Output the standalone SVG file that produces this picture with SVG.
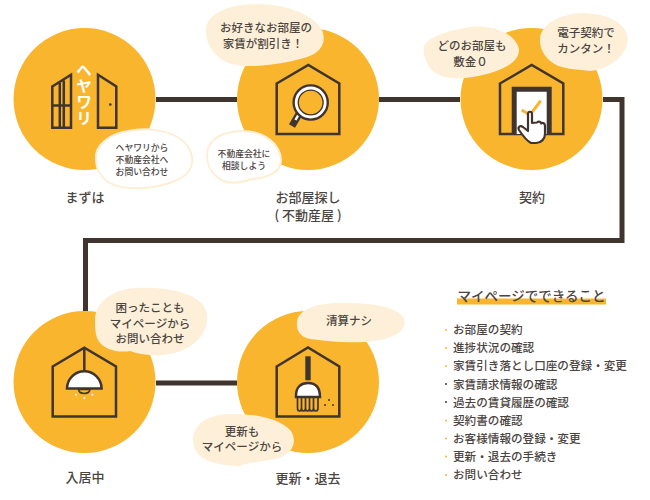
<svg xmlns="http://www.w3.org/2000/svg" width="650" height="500" viewBox="0 0 650 500">
<style>
text{font-family:"Noto Sans CJK JP","Noto Sans",sans-serif;fill:#4b4542;text-anchor:middle;font-weight:500}
.disc{fill:#f9b52d}
.ink{fill:none;stroke:#40342f;stroke-width:2.5;stroke-linejoin:miter}
.solid{fill:#fff;stroke:#40342f;stroke-width:2.5}
.link{fill:none;stroke:#40342f;stroke-width:5}
.soft{fill:#fef0d8}
.ring{fill:#fff;stroke:#feeed4;stroke-width:2}
.s9{font-size:8.8px}.s11{font-size:11.5px}.s13{font-size:13px}
.item{font-size:11.6px;text-anchor:start}
</style>
<rect width="650" height="500" fill="#fff"/>

<g id="connectors">
<path class="link" d="M156 99.500H237M379 99.500H460M603 99.500H622V240.500H85.500V311"/>
<path class="link" d="M156 383H237"/>
</g>

<g id="node-inquiry">
<circle class="disc" cx="84.500" cy="99" r="71"/>
<path class="ink" d="M52.300 86.500L71 74.800V127.700H52.300ZM59.800 83V127.700M63.800 80.500V127.700M52.300 105.500H71"/>
<path class="ink" d="M98 74.800L116.300 86.500V127.700H98Z"/>
<circle cx="110.300" cy="104.500" r="1.300" fill="#40342f"/>
<text x="84" y="62" style="writing-mode:vertical-rl;font-size:16px;font-weight:700;fill:#fff;text-anchor:start">ヘヤワリ</text>
<path class="ring" d="M96 160C94 145 110 134 128 131C148 127 175 130 187 145C197 160 193 174 175 181C155 189 125 192 108 182C100 176 96 170 96 160Z"/>
<text class="s9" x="142" y="151">ヘヤワリから</text>
<text class="s9" x="142" y="163">不動産会社へ</text>
<text class="s9" x="142" y="174.500">お問い合わせ</text>
<text class="s13" x="85" y="202">まずは</text>
</g>

<g id="node-search">
<circle class="disc" cx="308" cy="99" r="71"/>
<path class="ink" d="M276.700 83.500L308.300 65L339.300 83.500V134H276.700Z"/>
<path d="M299 114L292 126" stroke="#40342f" stroke-width="7" fill="none"/>
<path d="M300 112L295.500 120" stroke="#fff" stroke-width="2.500" fill="none"/>
<circle cx="310.700" cy="102.500" r="15" fill="#f9b52d" stroke="#40342f" stroke-width="6.500"/>
<circle cx="310.700" cy="102.500" r="14.500" fill="none" stroke="#fff" stroke-width="2.800"/>
<path class="soft" d="M206 30C206 14 228 5 252 4C280 3 312 12 322 30C328 46 318 56 296 60C272 66 240 69 226 62C212 54 206 44 206 30Z"/>
<text class="s11" x="266" y="32">お好きなお部屋の</text>
<text class="s11" x="263" y="48">家賃が割引き！</text>
<path class="ring" d="M207 155C207 140 222 131 243 131C263 131 280 143 281 160C281 172 268 178 252 179C240 183 226 186 216 176C209 170 207 164 207 155Z"/>
<text class="s9" x="244" y="156.500">不動産会社に</text>
<text class="s9" x="244" y="168.500">相談しよう</text>
<text class="s13" x="308" y="202">お部屋探し</text>
<text class="s13" x="308" y="220">( 不動産屋 )</text>
</g>

<g id="node-contract">
<circle class="disc" cx="531.500" cy="99" r="71"/>
<path class="ink" d="M500 83.500L531.700 65L563.300 83.500V134H500Z"/>
<path d="M514.200 134V89.200H549.200V134" fill="#fff" stroke="#40342f" stroke-width="5"/>
<path d="M521.700 110L530 115L540.700 100.700" fill="none" stroke="#f9b52d" stroke-width="3"/>
<path d="M528 114C528 111 532 111 532 114V123L537 122.500C539 120.500 541 122 541 123.500C543 122 545 123.500 545 126V134C545 139 541 143 536 143H531C527 141 523 136 519 130C517.500 127 520 125 523 127L528 131Z" fill="#fff" stroke="#40342f" stroke-width="2.200" stroke-linejoin="round"/>
<path class="soft" d="M424 47C426 38 445 31 470 27C495 24 517 35 519 50C519 64 498 72 478 76C455 81 438 78 430 68C425 60 423 54 424 47Z"/>
<text class="s11" x="472" y="50">どのお部屋も</text>
<text class="s11" x="470.500" y="66">敷金０</text>
<path class="soft" d="M540 40C540 24 560 14 582 13C605 13 626 22 628 38C628 55 610 69 590 71C575 69 560 70 549 60C543 54 540 48 540 40Z"/>
<text class="s11" x="586" y="37">電子契約で</text>
<text class="s11" x="586" y="52.500">カンタン！</text>
<text class="s13" x="532" y="202">契約</text>
</g>

<g id="node-living">
<circle class="disc" cx="84.500" cy="382" r="71"/>
<path class="ink" d="M52.700 366.500L84.300 347.700L116 366.500V416.500H52.700Z"/>
<path class="ink" d="M84.300 347.700V370"/>
<path class="solid" d="M67 388.500A17.300 17.300 0 0 1 101.600 388.500Z"/>
<path d="M78.500 389.500A5.800 4.500 0 0 0 90 389.500Z" fill="#f9b52d" stroke="#40342f" stroke-width="1.500"/>
<g fill="#fff"><circle cx="76" cy="394.700" r="1"/><circle cx="84.300" cy="398" r="1"/><circle cx="92.300" cy="394.700" r="1"/></g>
<path class="soft" d="M95 320C95 304 110 290 135 288C160 287 190 290 203 305C212 318 206 335 192 345C175 357 150 358 130 351C118 353 102 350 97 338C95 332 95 326 95 320Z"/>
<text class="s11" x="150" y="312">困ったことも</text>
<text class="s11" x="150" y="328">マイページから</text>
<text class="s11" x="150" y="343">お問い合わせ</text>
<text class="s13" x="85" y="482">入居中</text>
</g>

<g id="node-renewal">
<circle class="disc" cx="308" cy="382" r="71"/>
<path class="ink" d="M276.700 366.500L308 347.500L339.300 366.500V416.500H276.700Z"/>
<rect x="305.300" y="356.300" width="5.400" height="24" fill="#40342f"/>
<path class="solid" d="M296 397C295.500 386 302 383 308 383C314 383 320 386 320 397Z"/>
<path d="M297.500 397V408C297.500 412 301.500 412 301.500 408V397M301.500 408C301.500 412 305.500 412 305.500 408V397M305.500 408C305.500 412 309.500 412 309.500 408V397M309.500 408C309.500 412 313.500 412 313.500 408V397M313.500 408C313.500 412 318 412 318 408V397" fill="none" stroke="#40342f" stroke-width="1.700"/>
<g fill="#40342f"><circle cx="325" cy="405" r="1"/><circle cx="329" cy="400" r="1"/><circle cx="333" cy="405" r="1"/></g>
<path class="soft" d="M297 322C298 308 320 302 345 303C370 303 396 306 404 318C408 332 392 340 365 342C345 343 325 341 310 339C300 337 296 330 297 322Z"/>
<text class="s11" x="349" y="325">清算ナシ</text>
<path class="soft" d="M193 440C193 424 208 415 228 414C252 413 280 418 291 431C298 443 292 455 275 459C260 462 250 462 240 466C225 466 205 463 197 453C194 449 193 445 193 440Z"/>
<text class="s11" x="242" y="436">更新も</text>
<text class="s11" x="242" y="451">マイページから</text>
<text class="s13" x="308" y="483">更新・退去</text>
</g>

<g id="mypage-list">
<rect x="457" y="298.500" width="149" height="6" fill="#f9b52d"/>
<text x="531.500" y="301" style="font-size:13.500px">マイページでできること</text>
<text class="item" x="453" y="334">お部屋の契約</text>
<text class="item" x="453" y="352.200">進捗状況の確認</text>
<text class="item" x="453" y="370.400">家賃引き落とし口座の登録・変更</text>
<text class="item" x="453" y="388.500">家賃請求情報の確認</text>
<text class="item" x="453" y="406.700">過去の賃貸履歴の確認</text>
<text class="item" x="453" y="424.900">契約書の確認</text>
<text class="item" x="453" y="443">お客様情報の登録・変更</text>
<text class="item" x="453" y="461.200">更新・退去の手続き</text>
<text class="item" x="453" y="479.400">お問い合わせ</text>
<g fill="#f9b52d">
<circle cx="446" cy="330" r="1"/><circle cx="446" cy="348" r="1"/><circle cx="446" cy="366" r="1"/>
<circle cx="446" cy="420.500" r="1"/><circle cx="446" cy="438.500" r="1"/><circle cx="446" cy="456.500" r="1"/><circle cx="446" cy="475" r="1"/>
</g>
<g fill="#40342f"><circle cx="446" cy="384" r="1"/><circle cx="446" cy="402" r="1"/></g>
</g>
</svg>
